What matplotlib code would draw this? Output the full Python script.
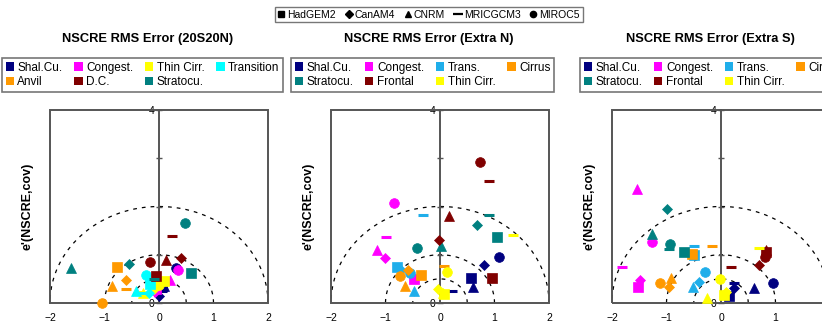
import numpy as np
import matplotlib
matplotlib.use("Agg")
import matplotlib.pyplot as plt
from matplotlib.lines import Line2D
from matplotlib.patches import Patch, Rectangle

plt.rcParams["font.family"] = ["Liberation Sans", "DejaVu Sans"]

W, H = 822, 324

MODELS = ["HadGEM2", "CanAM4", "CNRM", "MRICGCM3", "MIROC5"]
MARKERS = ["s", "D", "^", "_", "o"]
MARKER_SIZES = [6.5, 5.0, 7.0, 7.0, 7.0]

RADII = [0.5, 1.0, 2.0]

# ---- 20S20N ----
TROP_CATS = ["Shal.Cu.", "Congest.", "Thin Cirr.", "Transition",
             "Anvil", "D.C.", "Stratocu."]
TROP_COLORS = ["#000080", "#FF00FF", "#FFFF00", "#00FFFF",
               "#FF9900", "#800000", "#008080"]
# columns: HadGEM2, CanAM4, CNRM, MRICGCM3, MIROC5
TROP_X = [
    [0.05, 0.00, 0.10, 0.05, 0.32],
    [-0.05, -0.08, 0.21, 0.10, 0.34],
    [0.09, -0.10, -0.30, -0.35, 0.00],
    [-0.16, -0.19, -0.43, -0.30, -0.23],
    [-0.77, -0.60, -0.86, -0.60, -1.04],
    [-0.05, 0.40, 0.12, 0.23, -0.16],
    [0.59, -0.55, -1.62, -0.10, 0.47],
]
TROP_Y = [
    [0.35, 0.15, 0.35, 0.25, 0.72],
    [0.30, 0.22, 0.48, 0.40, 0.68],
    [0.45, 0.30, 0.20, 0.22, 0.38],
    [0.39, 0.21, 0.24, 0.20, 0.57],
    [0.74, 0.48, 0.35, 0.30, 0.00],
    [0.55, 0.93, 0.89, 1.38, 0.84],
    [0.62, 0.80, 0.72, 0.50, 1.65],
]

# ---- Extra N ----
EXTRA_CATS = ["Shal.Cu.", "Congest.", "Trans.", "Cirrus",
              "Stratocu.", "Frontal", "Thin Cirr."]
EXTRA_COLORS = ["#000080", "#FF00FF", "#1FAEEA", "#FF9900",
                "#008080", "#800000", "#FFFF00"]
NORTH_X = [
    [0.57, 0.81, 0.60, 0.22, 1.08],
    [-0.48, -1.01, -1.16, -1.00, -0.84],
    [-0.78, -0.72, -0.48, -0.31, -0.55],
    [-0.35, -0.59, -0.64, 0.08, -0.73],
    [1.05, 0.67, 0.02, 0.90, -0.43],
    [0.96, -0.02, 0.17, 0.89, 0.73],
    [0.07, -0.03, 0.05, 1.34, 0.12],
]
NORTH_Y = [
    [0.52, 0.79, 0.34, 0.25, 0.95],
    [0.50, 0.94, 1.10, 1.36, 2.08],
    [0.74, 0.68, 0.25, 1.82, 0.62],
    [0.58, 0.69, 0.36, 0.77, 0.56],
    [1.37, 1.62, 1.18, 1.82, 1.13],
    [0.52, 1.31, 1.80, 2.53, 2.93],
    [0.18, 0.29, 0.20, 1.41, 0.65],
]

# ---- Extra S ----
SOUTH_X = [
    [0.15, 0.24, 0.61, 0.24, 0.96],
    [-1.52, -1.48, -1.55, -1.82, -1.26],
    [-0.50, -0.41, -0.51, -0.50, -0.29],
    [-0.54, -0.95, -0.92, -0.17, -1.12],
    [-0.67, -0.99, -1.27, -0.96, -0.94],
    [0.82, 0.69, 0.83, 0.18, 0.80],
    [0.06, 0.10, -0.25, 0.70, -0.01],
]
SOUTH_Y = [
    [0.14, 0.31, 0.32, 0.41, 0.41],
    [0.33, 0.48, 2.37, 0.74, 1.26],
    [1.00, 0.44, 0.34, 1.18, 0.65],
    [1.01, 0.34, 0.51, 1.18, 0.42],
    [1.05, 1.95, 1.44, 1.11, 1.23],
    [1.05, 0.79, 1.10, 0.75, 0.96],
    [0.17, 0.22, 0.10, 1.13, 0.49],
]

PANELS = [
    ("NSCRE RMS Error (20S20N)", TROP_CATS, TROP_COLORS, TROP_X, TROP_Y, 50, 2),
    ("NSCRE RMS Error (Extra N)", EXTRA_CATS, EXTRA_COLORS, NORTH_X, NORTH_Y, 331, 291),
    ("NSCRE RMS Error (Extra S)", EXTRA_CATS, EXTRA_COLORS, SOUTH_X, SOUTH_Y, 612, 580),
]

FRAME = "#555555"


def draw_panel(fig, title, cats, colors, xs, ys, left_px, legend_px):
    ax = fig.add_axes([left_px / W, 21 / H, 218 / W, 193 / H])
    ax.set_xlim(-2, 2)
    ax.set_ylim(0, 4)

    for side in ["top", "right", "bottom"]:
        ax.spines[side].set_visible(False)
    ax.spines["left"].set_position(("data", 0))
    ax.spines["left"].set_color(FRAME)
    ax.spines["left"].set_linewidth(1.4)
    ax.add_patch(Rectangle((0, 0), 1, 1, transform=ax.transAxes, fill=False,
                           edgecolor=FRAME, linewidth=1.4, clip_on=False, zorder=2.5))

    ax.set_yticks([0, 1, 2, 3, 4])
    ax.set_yticklabels(["0", "", "", "", "4"])
    ax.tick_params(axis="y", direction="inout", length=5, width=1,
                   color=FRAME, labelsize=7.5, pad=1)
    ax.set_xticks([-2, -1, 0, 1, 2])
    ax.tick_params(axis="x", length=0, labelsize=7.5, pad=7)

    theta = np.linspace(0, np.pi, 200)
    for r in RADII:
        ax.plot(r * np.cos(theta), r * np.sin(theta), color="black",
                linewidth=0.9, linestyle=(0, (3, 4)), zorder=1)

    for i, color in enumerate(colors):
        for j, marker in enumerate(MARKERS):
            kw = dict(marker=marker, markersize=MARKER_SIZES[j], linestyle="none",
                      clip_on=False, zorder=3)
            if marker == "_":
                kw.update(markeredgecolor=color, markeredgewidth=2.2)
            else:
                kw.update(markerfacecolor=color, markeredgecolor=color,
                          markeredgewidth=0.5)
            ax.plot(xs[i][j], ys[i][j], **kw)

    ax.set_ylabel("e'(NSCRE,cov)", fontsize=9, fontweight="bold", labelpad=0)
    ax.yaxis.set_label_coords(-17 / 218, 0.5)

    fig.text((left_px + 98) / W, 1 - 39 / H, title, ha="center", va="center",
             fontsize=9.3, fontweight="bold")

    # legend rows are read left to right, matplotlib fills columns first
    order = [0, 4, 1, 5, 2, 6, 3]
    handles = [Patch(facecolor=colors[k], edgecolor="none") for k in order]
    labels = [cats[k] for k in order]
    leg = fig.legend(handles, labels, ncol=4, loc="upper left",
                     bbox_to_anchor=(legend_px / W, 1 - 58 / H), borderaxespad=0,
                     fontsize=8.5, frameon=True, fancybox=False,
                     handlelength=0.7, handleheight=0.7, handletextpad=0.3,
                     columnspacing=1.0, labelspacing=0.25, borderpad=0.3)
    leg.get_frame().set_edgecolor(FRAME)
    leg.get_frame().set_linewidth(1.2)


def main():
    fig = plt.figure(figsize=(W / 100, H / 100), dpi=100)

    for title, cats, colors, xs, ys, left_px, legend_px in PANELS:
        draw_panel(fig, title, cats, colors, xs, ys, left_px, legend_px)

    model_handles = []
    for marker in MARKERS:
        if marker == "_":
            h = Line2D([], [], marker=marker, color="black", linestyle="none",
                       markersize=7, markeredgewidth=1.6)
        else:
            h = Line2D([], [], marker=marker, color="black", linestyle="none",
                       markersize=4.5)
        model_handles.append(h)
    top = fig.legend(model_handles, MODELS, ncol=5, loc="center",
                     bbox_to_anchor=(429 / W, 1 - 14.5 / H), fontsize=7.5,
                     frameon=True, fancybox=False, handlelength=0.6,
                     handletextpad=0.3, columnspacing=0.9, borderpad=0.25)
    top.get_frame().set_edgecolor(FRAME)
    top.get_frame().set_linewidth(1.0)

    fig.savefig("out.png", dpi=100)


if __name__ == "__main__":
    main()
